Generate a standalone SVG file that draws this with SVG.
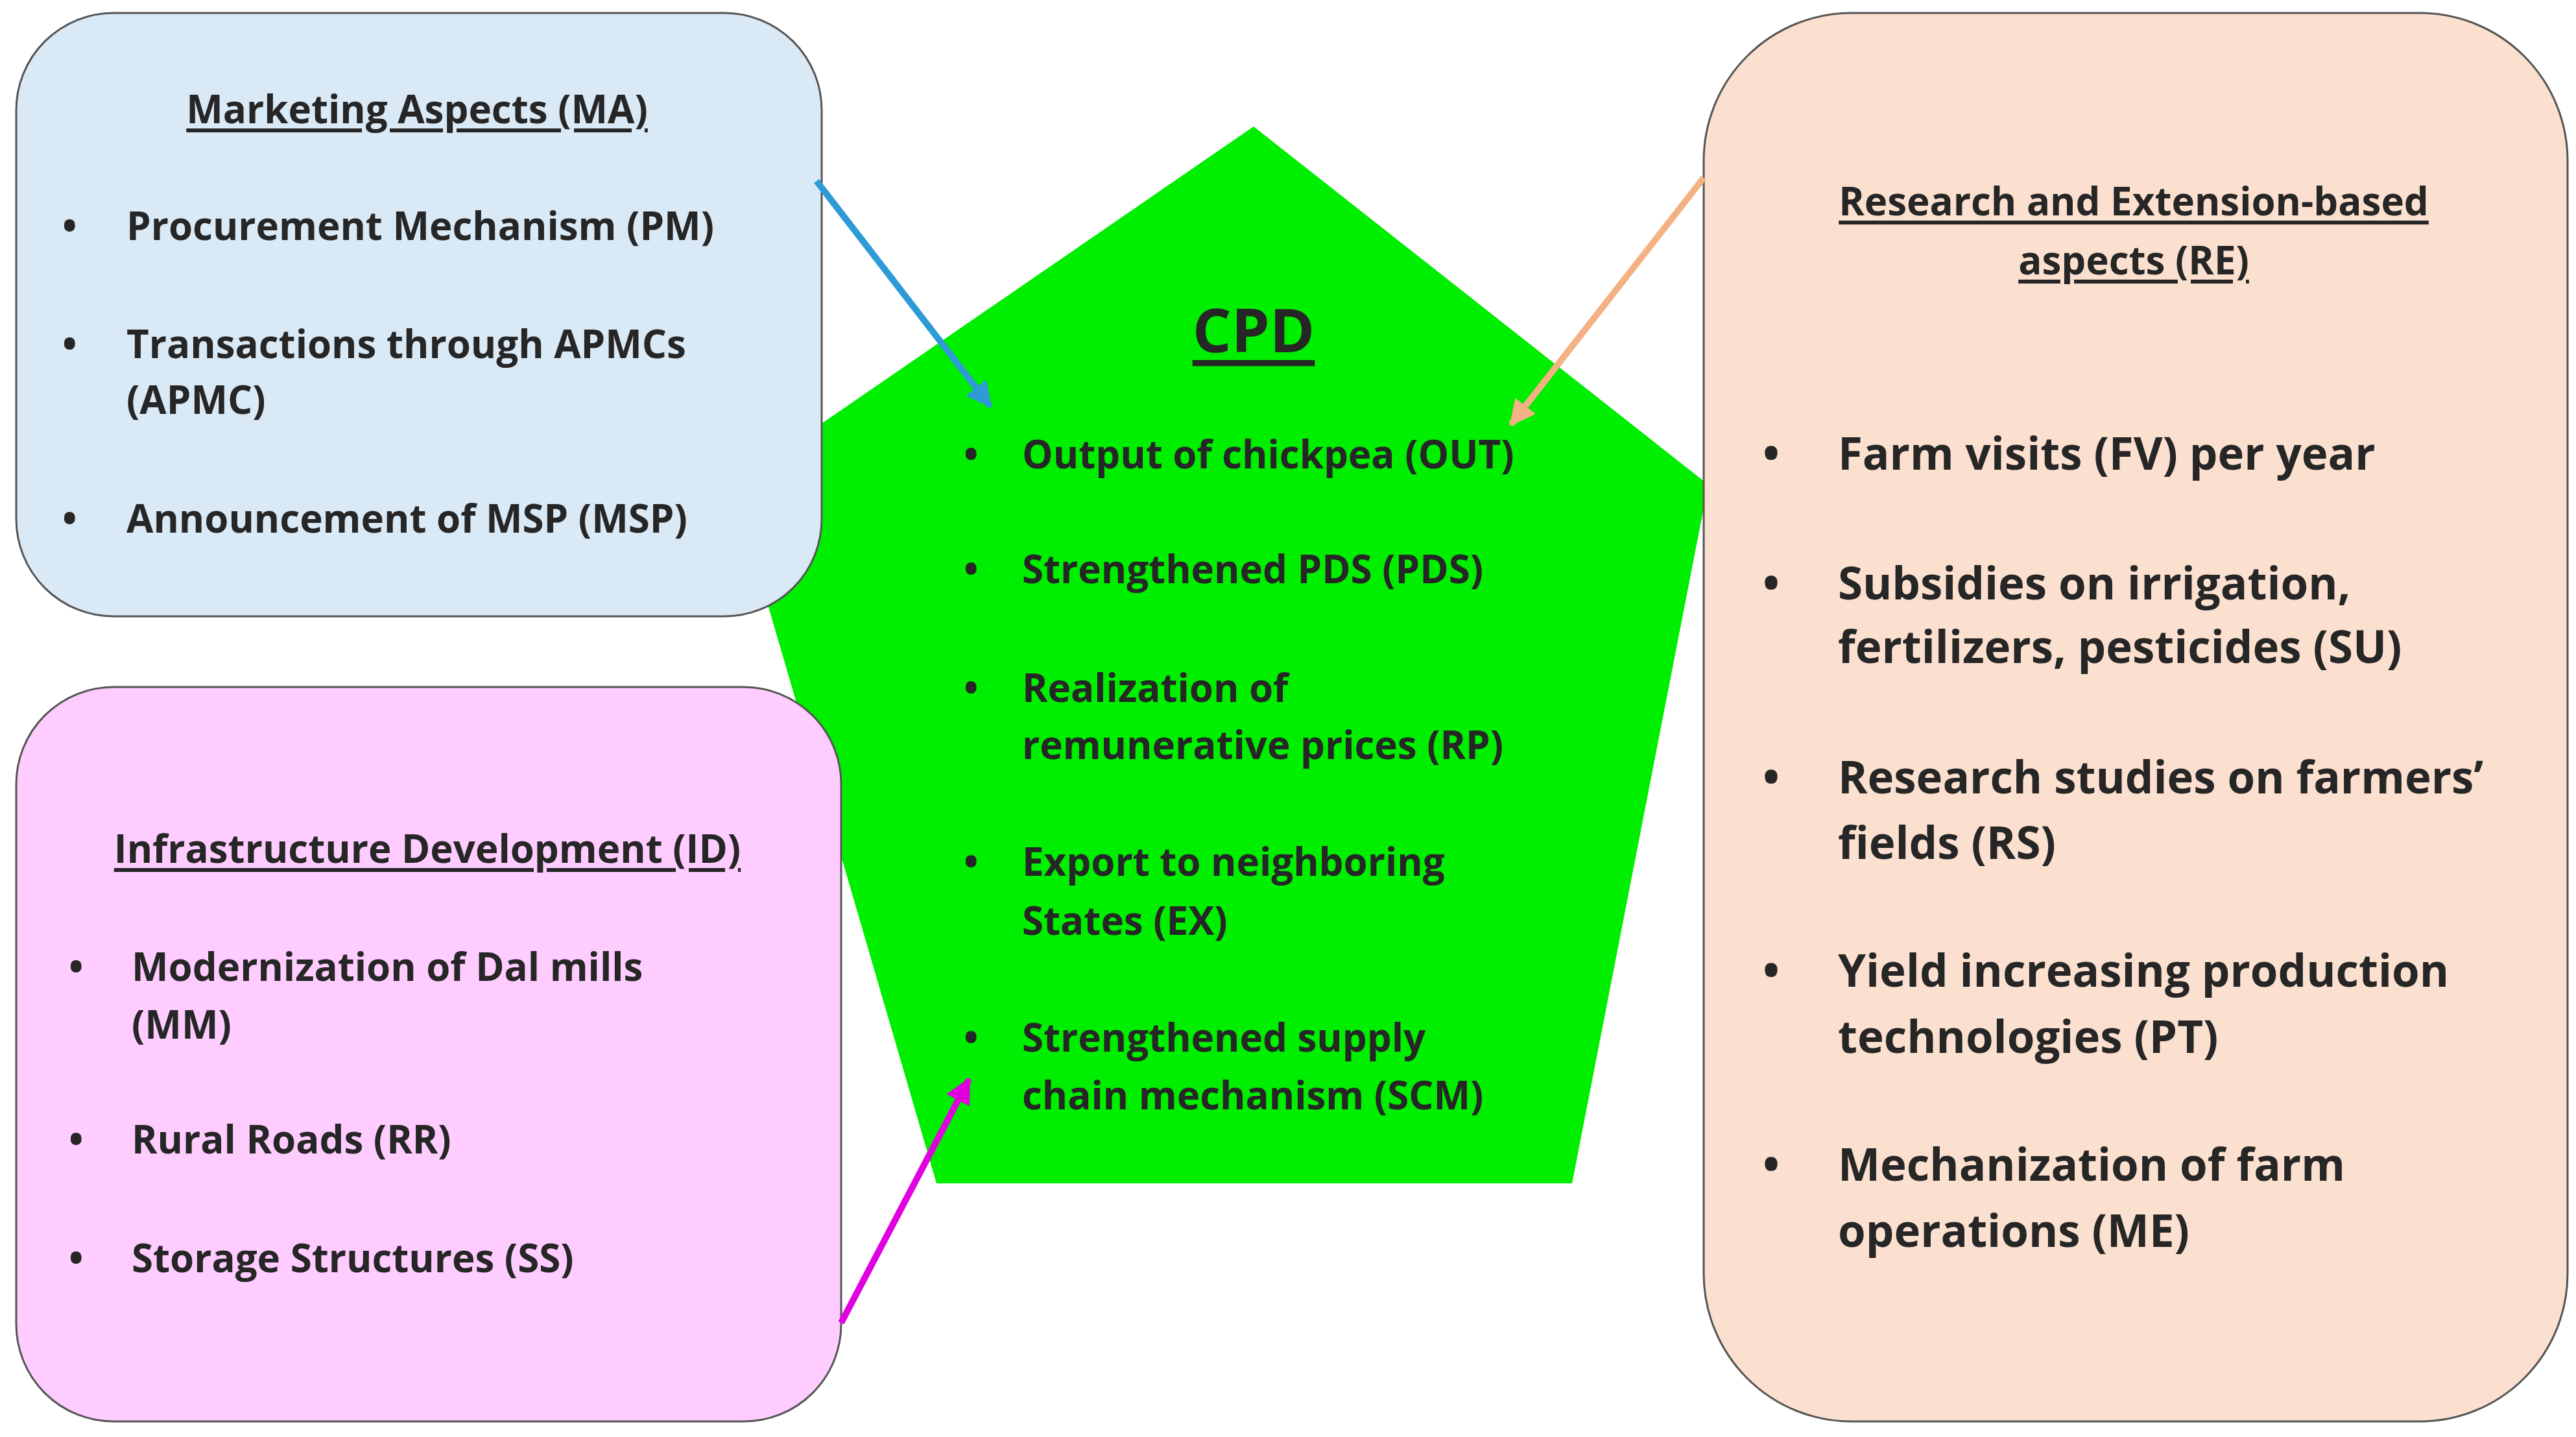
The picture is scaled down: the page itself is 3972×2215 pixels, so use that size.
<svg xmlns="http://www.w3.org/2000/svg" width="3972" height="2215" viewBox="0 0 3972 2215">
<style>
.t{font-family:"Open Sans","Liberation Sans",sans-serif;font-weight:700;fill:#262626;font-size:60px;dominant-baseline:central}
.r{font-size:69px}
.h{text-decoration:underline;text-anchor:middle}
.box{stroke:#555;stroke-width:3}
.c{fill:none;stroke-width:10}
</style>
<defs>
<marker id="ab" viewBox="0 0 10 10" refX="9" refY="5" markerWidth="4" markerHeight="4" orient="auto"><path d="M0,0L10,5L0,10z" fill="#2E9BD6"/></marker>
<marker id="ap" viewBox="0 0 10 10" refX="9" refY="5" markerWidth="4" markerHeight="4" orient="auto"><path d="M0,0L10,5L0,10z" fill="#F4B183"/></marker>
<marker id="am" viewBox="0 0 10 10" refX="9" refY="5" markerWidth="4" markerHeight="4" orient="auto"><path d="M0,0L10,5L0,10z" fill="#E000E0"/></marker>
</defs>
<rect width="3972" height="2215" fill="#fff"/>
<g id="cpd">
<polygon points="1933,195 2634,747 2424,1824 1444,1824 1130,747" fill="#00EE00"/>
<text class="t h" x="1933" y="507" style="font-size:94px">CPD</text>
<g class="t">
<text x="1486" y="699">•</text><text x="1576" y="699">Output of chickpea (OUT)</text>
<text x="1486" y="876">•</text><text x="1576" y="876">Strengthened PDS  (PDS)</text>
<text x="1486" y="1059">•</text><text x="1576" y="1059">Realization of</text><text x="1576" y="1147">remunerative prices (RP)</text>
<text x="1486" y="1327">•</text><text x="1576" y="1327">Export to neighboring</text><text x="1576" y="1418">States (EX)</text>
<text x="1486" y="1598">•</text><text x="1576" y="1598">Strengthened supply</text><text x="1576" y="1687">chain mechanism (SCM)</text>
</g>
</g>
<g id="ma">
<rect class="box" x="25" y="20" width="1242" height="930" rx="150" fill="#DAE9F6"/>
<text class="t h" x="643" y="167">Marketing Aspects (MA)</text>
<g class="t">
<text x="96" y="347">•</text><text x="195" y="347">Procurement Mechanism (PM)</text>
<text x="96" y="529">•</text><text x="195" y="529">Transactions through APMCs</text><text x="195" y="615">(APMC)</text>
<text x="96" y="798">•</text><text x="195" y="798">Announcement of MSP (MSP)</text>
</g>
</g>
<g id="id">
<rect class="box" x="25" y="1059" width="1272" height="1132" rx="150" fill="#FFCCFF"/>
<text class="t h" x="659" y="1307">Infrastructure Development (ID)</text>
<g class="t">
<text x="106" y="1489">•</text><text x="203" y="1489">Modernization of Dal mills</text><text x="203" y="1578">(MM)</text>
<text x="106" y="1755">•</text><text x="203" y="1755">Rural Roads (RR)</text>
<text x="106" y="1938">•</text><text x="203" y="1938">Storage Structures (SS)</text>
</g>
</g>
<g id="re">
<rect class="box" x="2627" y="20" width="1332" height="2171" rx="228" fill="#FCE0CF"/>
<text class="t h" x="3290" y="309">Research and Extension-based</text>
<text class="t h" x="3290" y="400">aspects (RE)</text>
<g class="t r">
<text x="2718" y="697">•</text><text x="2834" y="697">Farm visits (FV) per year</text>
<text x="2718" y="897">•</text><text x="2834" y="897">Subsidies on irrigation,</text><text x="2834" y="995">fertilizers, pesticides (SU)</text>
<text x="2718" y="1196">•</text><text x="2834" y="1196">Research studies on farmers’</text><text x="2834" y="1297">fields (RS)</text>
<text x="2718" y="1494">•</text><text x="2834" y="1494">Yield increasing production</text><text x="2834" y="1596">technologies (PT)</text>
<text x="2718" y="1793">•</text><text x="2834" y="1793">Mechanization of farm</text><text x="2834" y="1895">operations (ME)</text>
</g>
</g>
<g id="connectors">
<line class="c" x1="1259" y1="279" x2="1527" y2="626" stroke="#2E9BD6" marker-end="url(#ab)"/>
<line class="c" x1="2627" y1="274" x2="2330" y2="654" stroke="#F4B183" marker-end="url(#ap)"/>
<line class="c" x1="1297" y1="2039" x2="1494" y2="1664" stroke="#E000E0" marker-end="url(#am)"/>
</g>
</svg>
